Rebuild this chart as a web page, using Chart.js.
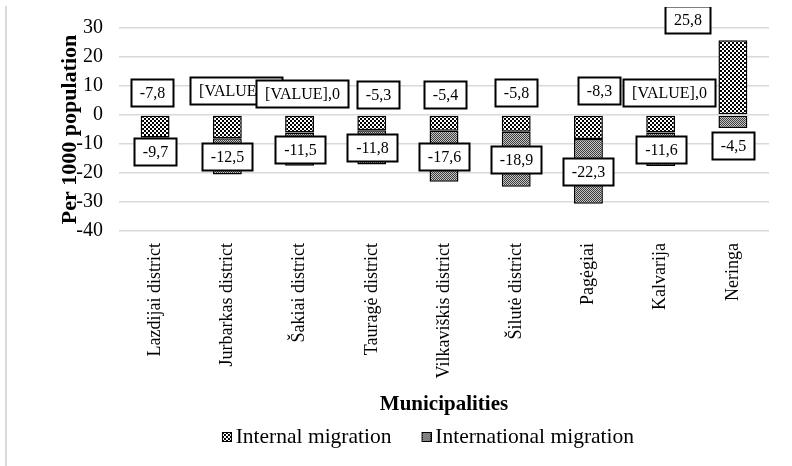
<!DOCTYPE html>
<html><head><meta charset="utf-8">
<script src="https://cdn.jsdelivr.net/npm/chart.js@4/dist/chart.umd.min.js"></script>
<style>html,body{margin:0;padding:0;background:#fff;}#wrap{width:792px;height:466px;}</style>
</head><body><div id="wrap"><canvas id="c" width="792" height="466"></canvas></div>
<script>
const categories = ["Lazdijai district","Jurbarkas district","Šakiai district","Tauragė district","Vilkaviškis district","Šilutė district","Pagėgiai","Kalvarija","Neringa"];
const internalMigration = [-7.8,-8.0,-6.0,-5.3,-5.4,-5.8,-8.3,-6.0,25.8];
const internationalMigration = [-9.7,-12.5,-11.5,-11.8,-17.6,-18.9,-22.3,-11.6,-4.5];
const internalLabels = ["-7,8","[VALUE],0","[VALUE],0","-5,3","-5,4","-5,8","-8,3","[VALUE],0","25,8"];
const internationalLabels = internationalMigration.map(v => v.toFixed(1).replace('.', ','));
const yMin = -40, yMax = 30, yStep = 10;

const SERIF = '"Liberation Serif","Times New Roman",serif';

function patternTile(kind){
  const c = document.createElement('canvas');
  const g = c.getContext('2d');
  if (kind === 'internal') {
    c.width = 4; c.height = 4;
    g.fillStyle = '#000'; g.fillRect(0,0,4,4);
    g.fillStyle = '#fff'; g.fillRect(0,0,2,2); g.fillRect(2,2,2,2);
  } else {
    c.width = 2; c.height = 2;
    g.fillStyle = '#c8c8c8'; g.fillRect(0,0,2,2);
    g.fillStyle = '#3a3a3a'; g.fillRect(0,0,1,1); g.fillRect(1,1,1,1);
  }
  return c;
}
function makePattern(kind){
  return document.createElement('canvas').getContext('2d').createPattern(patternTile(kind),'repeat');
}
// legend marker image: 10px patterned square placed at the right of a wider transparent canvas
function legendMarker(kind){
  const c = document.createElement('canvas');
  c.width = 16; c.height = 10;
  const g = c.getContext('2d');
  g.fillStyle = g.createPattern(patternTile(kind), 'repeat');
  g.fillRect(6, 0, 10, 10);
  g.strokeStyle = '#000'; g.lineWidth = 1;
  g.strokeRect(6.5, 0.5, 9, 9);
  return c;
}

const frame = {
  id: 'frame',
  beforeDraw(chart){
    const ctx = chart.ctx;
    ctx.save();
    ctx.fillStyle = '#fff';
    ctx.fillRect(0,0,chart.width,chart.height);
    ctx.fillStyle = '#d9d9d9';
    ctx.fillRect(5, 6, 2, chart.height - 6);
    ctx.restore();
  },
  afterUpdate(chart){
    const lg = chart.legend;
    if (!lg) return;
    const shift = 428.5 - (lg.left + lg.right) / 2;
    lg.left += shift; lg.right += shift;
  }
};

const boxLabels = {
  id: 'boxLabels',
  afterDatasetsDraw(chart, args, opts){
    const ctx = chart.ctx;
    const ys = chart.scales.y;
    const m0 = chart.getDatasetMeta(0), m1 = chart.getDatasetMeta(1);
    const boxH = 27, padX = 8.5;
    ctx.save();
    ctx.beginPath(); ctx.rect(0, 7, chart.width, chart.height - 7); ctx.clip();
    ctx.font = '16px ' + SERIF;
    ctx.textAlign = 'center'; ctx.textBaseline = 'middle';
    function box(text, cx, cy){
      const w = Math.round(ctx.measureText(text).width + padX * 2);
      const x0 = Math.round(cx - w/2) + 0.5, y0 = Math.round(cy - boxH/2) + 0.5;
      ctx.fillStyle = '#fff';
      ctx.fillRect(x0, y0, w, boxH);
      ctx.lineWidth = 2; ctx.strokeStyle = '#000';
      ctx.strokeRect(x0, y0, w, boxH);
      ctx.fillStyle = '#000';
      ctx.fillText(text, x0 + w/2, y0 + boxH/2 + 1);
    }
    const zero = ys.getPixelForValue(0);
    internalMigration.forEach((v, i) => {
      const bar = m0.data[i];
      const n = opts.nudge[i] || [0, 0];
      const cy = v < 0 ? zero + n[1] : bar.y + n[1];
      box(internalLabels[i], bar.x + n[0], cy);
    });
    internationalMigration.forEach((v, i) => {
      const bar = m1.data[i];
      const h = Math.abs(bar.base - bar.y);
      const cy = h >= boxH ? (bar.base + bar.y) / 2 : bar.y + 4 + boxH / 2;
      box(internationalLabels[i], bar.x, cy);
    });
    ctx.restore();
  }
};

const pInt = makePattern('internal');
const pIntl = makePattern('international');
const markers = [legendMarker('internal'), legendMarker('international')];

new Chart(document.getElementById('c'), {
  type: 'bar',
  data: {
    labels: categories,
    datasets: [
      { label: 'Internal migration', data: internalMigration, backgroundColor: pInt,
        borderColor: '#000', borderWidth: 1.5, borderSkipped: false,
        barPercentage: 0.8, categoryPercentage: 0.5 },
      { label: 'International migration', data: internationalMigration, backgroundColor: pIntl,
        borderColor: '#000', borderWidth: 1.5, borderSkipped: false,
        barPercentage: 0.8, categoryPercentage: 0.5 }
    ]
  },
  options: {
    responsive: false, animation: false, devicePixelRatio: 1,
    layout: { padding: { left: 0, right: 23, top: 27, bottom: 8.25 } },
    scales: {
      x: {
        stacked: true,
        grid: { display: false, drawTicks: false },
        border: { display: false },
        ticks: { autoSkip: false, maxRotation: 90, minRotation: 90, padding: 12,
                 color: '#000', font: { family: SERIF, size: 18 } },
        title: { display: true, text: 'Municipalities', color: '#000',
                 font: { family: SERIF, size: 21, weight: 'bold' }, padding: { top: 0, bottom: -22.35 } },
        afterFit(s){ s.height = 164.25; }
      },
      y: {
        stacked: true, min: yMin, max: yMax,
        grid: { color: '#d9d9d9', lineWidth: 1.5, drawTicks: false },
        border: { display: false },
        ticks: { stepSize: yStep, padding: 16, color: '#000', font: { family: SERIF, size: 20 } },
        title: { display: true, text: 'Per 1000 population', color: '#000',
                 font: { family: SERIF, size: 22, weight: 'bold' }, padding: { top: 56.8, bottom: 0 } },
        afterFit(s){ s.width = 119; }
      }
    },
    plugins: {
      legend: { position: 'bottom',
        labels: { usePointStyle: true, pointStyleWidth: 2, boxHeight: 10, padding: 31, color: '#000',
                  font: { family: SERIF, size: 21.5 },
                  generateLabels(chart){
                    const items = Chart.defaults.plugins.legend.labels.generateLabels(chart);
                    items.forEach((it, i) => { it.pointStyle = markers[i]; });
                    return items;
                  } } },
      tooltip: { enabled: false },
      boxLabels: { nudge: [[-3,-22.5],[9,-24.5],[2,-21.5],[6,-21],[1,-21],[0,-23],[11,-24.5],[8,-23],[-45,-20.5]] }
    }
  },
  plugins: [frame, boxLabels]
});
</script></body></html>
